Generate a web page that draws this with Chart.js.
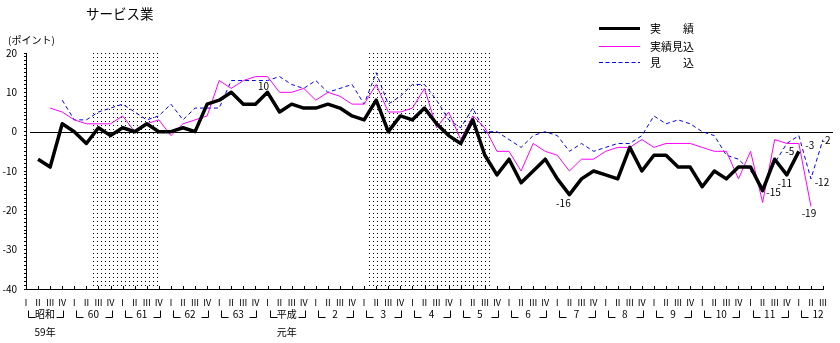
<!DOCTYPE html>
<html lang="ja">
<head>
<meta charset="utf-8">
<script src="https://cdn.jsdelivr.net/npm/chart.js@4.4.1/dist/chart.umd.min.js"></script>
<style>
  body { margin: 0; background: #fff; }
</style>
</head>
<body>
<canvas id="chart" width="840" height="343"></canvas>
<script>
// 四半期の名前と年の名前
const quarterNames = ['Ⅰ', 'Ⅱ', 'Ⅲ', 'Ⅳ'];
const yearLabels = ['昭和', '60', '61', '62', '63', '平成', '2', '3', '4', '5', '6', '7', '8', '9', '10', '11', '12'];
const yearNotes = ['59年', '', '', '', '', '元年', '', '', '', '', '', '', '', '', '', '', ''];
const lastYearQuarters = 3;

// 実績 (昭和59年Ⅰ 〜 平成12年Ⅲ)
const jisseki = [
  null, -7, -9, 2,
  0, -3, 1, -1,
  1, 0, 2, 0,
  0, 1, 0, 7,
  8, 10, 7, 7,
  10, 5, 7, 6,
  6, 7, 6, 4,
  3, 8, 0, 4,
  3, 6, 2, -1,
  -3, 3, -6, -11,
  -7, -13, -10, -7,
  -12, -16, -12, -10,
  -11, -12, -4, -10,
  -6, -6, -9, -9,
  -14, -10, -12, -9,
  -9, -15, -7, -11,
  -5, null, null
];

// 実績見込
const jissekiMikomi = [
  null, null, 6, 5,
  3, 2, 2, 2,
  4, 0, 2, 3,
  -1, 2, 3, 4,
  13, 11, 13, 14,
  14, 10, 10, 11,
  8, 10, 9, 7,
  7, 12, 5, 5,
  6, 11, 1, 5,
  -2, 4, 1, -5,
  -5, -10, -3, -5,
  -6, -10, -7, -7,
  -5, -4, -4, -2,
  -4, -3, -3, -3,
  -4, -5, -5, -12,
  -5, -18, -2, -3,
  -3, -19, null
];

// 見込
const mikomi = [
  null, null, null, 8,
  3, 3, 5, 6,
  7, 5, 3, 4,
  7, 3, 6, 6,
  6, 13, 13, 13,
  13, 14, 12, 11,
  13, 10, 11, 12,
  7, 15, 7, 9,
  12, 12, 8, 3,
  1, 6, 0, 0,
  -2, -4, -1, 0,
  -1, -5, -3, -5,
  -4, -3, -3, -1,
  4, 2, 3, 2,
  0, -1, -6, -7,
  -10, -14, -8, -3,
  -1, -12, -2
];

// 景気後退期 (四半期の位置)
const recessions = [[5.4, 11.0], [28.35, 38.7]];

// 数値ラベル: [系列, 位置, dx, dy]
const valueLabels = [
  [0, 20, -4, -6],
  [0, 45, -6, 9],
  [0, 61, 11, 2],
  [0, 63, -2, 8],
  [0, 64, -9, 0],
  [1, 64, 11, 2],
  [1, 65, -2, 7],
  [2, 65, 11, 3],
  [2, 66, 3, 1]
];

const FONT = '"Noto Sans CJK JP", sans-serif';

// 横軸のラベル
const labels = [];
yearLabels.forEach(function (y, k) {
  quarterNames.forEach(function (q, qi) {
    if (k === yearLabels.length - 1 && qi >= lastYearQuarters) return;
    labels.push(q);
  });
});

// 点々の模様
const pc = document.createElement('canvas');
pc.width = 4; pc.height = 4;
const pctx = pc.getContext('2d');
pctx.fillStyle = '#000';
pctx.fillRect(1, 1, 1, 1);

const extras = {
  id: 'extras',
  beforeDatasetsDraw: function (chart) {
    const ctx = chart.ctx, area = chart.chartArea, x = chart.scales.x, y = chart.scales.y;
    ctx.save();
    ctx.fillStyle = ctx.createPattern(pc, 'repeat');
    recessions.forEach(function (r) {
      const x0 = Math.round(x.getPixelForValue(r[0]));
      const x1 = Math.round(x.getPixelForValue(r[1]));
      ctx.fillRect(x0, area.top, x1 - x0, area.bottom - area.top);
    });
    // ゼロの線
    const y0 = Math.round(y.getPixelForValue(0)) + 0.5;
    ctx.strokeStyle = '#000';
    ctx.lineWidth = 1;
    ctx.beginPath();
    ctx.moveTo(area.left + 4, y0);
    ctx.lineTo(area.right + 10, y0);
    ctx.stroke();
    ctx.restore();
  },
  afterDraw: function (chart) {
    const ctx = chart.ctx, area = chart.chartArea, x = chart.scales.x, y = chart.scales.y;
    ctx.save();
    ctx.strokeStyle = '#000';
    ctx.fillStyle = '#000';
    ctx.lineWidth = 1;

    // 横軸の目盛り (内向き)
    ctx.beginPath();
    for (let i = 1; i < labels.length; i++) {
      const px = Math.round(x.getPixelForValue(i)) + 0.5;
      ctx.moveTo(px, area.bottom);
      ctx.lineTo(px, area.bottom - 3);
    }
    ctx.stroke();

    // 年のかっこ
    const top = 310.5, bot = 317.5;
    ctx.font = '10px ' + FONT;
    ctx.textAlign = 'center';
    ctx.textBaseline = 'middle';
    yearLabels.forEach(function (label, k) {
      const s = k * 4;
      const e = Math.min(s + 3, labels.length - 1);
      const l = Math.round(x.getPixelForValue(s) + 2) + 0.5;
      ctx.beginPath();
      ctx.moveTo(l, top);
      ctx.lineTo(l, bot);
      ctx.lineTo(l + 7, bot);
      if (e === s + 3) {
        const r = Math.round(x.getPixelForValue(e) + 1) + 0.5;
        ctx.moveTo(r - 7, bot);
        ctx.lineTo(r, bot);
        ctx.lineTo(r, top);
      }
      ctx.stroke();
      const cx = x.getPixelForValue(s + 1.5) + 1;
      ctx.fillText(label, cx, 314.5);
      if (yearNotes[k]) ctx.fillText(yearNotes[k], cx, 332);
    });

    // 数値ラベル
    ctx.font = '10px ' + FONT;
    valueLabels.forEach(function (v) {
      const val = chart.data.datasets[v[0]].data[v[1]];
      const px = x.getPixelForValue(v[1]) + v[2];
      const py = y.getPixelForValue(val) + v[3];
      ctx.fillText(String(val), px, py);
    });

    // タイトルと単位
    ctx.textAlign = 'left';
    ctx.font = '13.5px ' + FONT;
    ctx.fillText('サービス業', 86, 13.5);
    ctx.font = '10px ' + FONT;
    ctx.fillText('(ポイント)', 8, 40);

    // 凡例
    const legend = [
      ['実\u3000\u3000績', '#000000', 3, []],
      ['実績見込', '#ff00ff', 1, []],
      ['見\u3000\u3000込', '#0000ff', 1, [4, 2.5]]
    ];
    ctx.font = '11px ' + FONT;
    legend.forEach(function (it, i) {
      const ly = [28.5, 46.5, 62.5][i];
      ctx.strokeStyle = it[1];
      ctx.lineWidth = it[2];
      ctx.setLineDash(it[3]);
      ctx.beginPath();
      ctx.moveTo(599, ly);
      ctx.lineTo(640, ly);
      ctx.stroke();
      ctx.setLineDash([]);
      ctx.fillText(it[0], 650, ly);
    });
    ctx.restore();
  }
};

new Chart(document.getElementById('chart').getContext('2d'), {
  type: 'line',
  data: {
    labels: labels,
    datasets: [{
      label: '実績',
      data: jisseki,
      borderColor: '#000000',
      borderWidth: 3.5,
      borderJoinStyle: 'round',
      pointRadius: 0,
      fill: false
    }, {
      label: '実績見込',
      data: jissekiMikomi,
      borderColor: '#ff00ff',
      borderWidth: 1,
      pointRadius: 0,
      fill: false
    }, {
      label: '見込',
      data: mikomi,
      borderColor: '#0000ff',
      borderWidth: 1,
      borderDash: [4, 3],
      pointRadius: 0,
      fill: false
    }]
  },
  options: {
    responsive: false,
    animation: false,
    devicePixelRatio: 1,
    layout: { padding: { top: 53, right: 17, left: 0, bottom: 0 } },
    plugins: { legend: { display: false }, tooltip: { enabled: false } },
    scales: {
      x: {
        type: 'category',
        offset: false,
        grid: { display: false },
        border: { display: true, color: '#000', width: 1 },
        ticks: {
          autoSkip: false, maxRotation: 0, minRotation: 0,
          color: '#000', padding: 0,
          font: { size: 9, family: FONT }
        },
        afterFit: function (s) { s.height = 54; }
      },
      y: {
        min: -40, max: 20,
        grid: { drawOnChartArea: false, drawTicks: true, tickLength: 2, color: '#000' },
        border: { display: true, color: '#000', width: 1 },
        ticks: {
          stepSize: 1, autoSkip: false, color: '#000', padding: 7,
          font: { size: 10, family: FONT },
          callback: function (v) { return v % 10 === 0 ? String(v) : ''; }
        },
        afterFit: function (s) { s.width = 26; }
      }
    }
  },
  plugins: [extras]
});
</script>
</body>
</html>
